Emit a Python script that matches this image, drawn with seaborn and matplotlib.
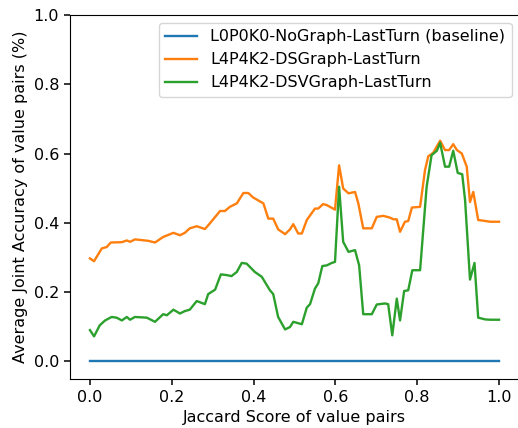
import matplotlib
matplotlib.use("Agg")
import matplotlib.pyplot as plt
import seaborn as sns
import pandas as pd

# values
base_x = [0.0, 1.0]
base_y = [0.0, 0.0]

ds_x = [0.0, 0.01, 0.029, 0.041, 0.051, 0.078, 0.09, 0.098, 0.11, 0.126, 0.142,
        0.159, 0.179, 0.204, 0.22, 0.232, 0.244, 0.261, 0.281, 0.293, 0.318, 0.33,
        0.342, 0.359, 0.375, 0.387, 0.399, 0.424, 0.436, 0.448, 0.46, 0.477, 0.489,
        0.497, 0.509, 0.518, 0.53, 0.55, 0.558, 0.57, 0.579, 0.599, 0.609, 0.619,
        0.632, 0.648, 0.656, 0.668, 0.689, 0.701, 0.717, 0.733, 0.742, 0.75, 0.758,
        0.77, 0.778, 0.787, 0.807, 0.819, 0.827, 0.839, 0.856, 0.868, 0.878, 0.888,
        0.897, 0.909, 0.921, 0.929, 0.937, 0.949, 0.962, 0.978, 1.0]
ds_y = [0.297, 0.289, 0.326, 0.330, 0.343, 0.344, 0.349, 0.345, 0.352, 0.350, 0.348,
        0.343, 0.359, 0.371, 0.364, 0.371, 0.384, 0.390, 0.382, 0.398, 0.434, 0.434,
        0.446, 0.456, 0.486, 0.486, 0.473, 0.456, 0.412, 0.412, 0.381, 0.367, 0.381,
        0.396, 0.369, 0.369, 0.408, 0.441, 0.441, 0.454, 0.451, 0.438, 0.566, 0.499,
        0.485, 0.489, 0.456, 0.384, 0.384, 0.417, 0.420, 0.415, 0.410, 0.410, 0.374,
        0.403, 0.405, 0.444, 0.446, 0.552, 0.592, 0.602, 0.637, 0.610, 0.610, 0.627,
        0.610, 0.600, 0.562, 0.460, 0.489, 0.408, 0.406, 0.403, 0.403]

dsv_x = [0.0, 0.01, 0.024, 0.037, 0.053, 0.065, 0.078, 0.09, 0.098, 0.11, 0.139,
         0.159, 0.179, 0.188, 0.204, 0.22, 0.232, 0.244, 0.261, 0.281, 0.289, 0.306,
         0.32, 0.334, 0.346, 0.359, 0.371, 0.383, 0.403, 0.42, 0.44, 0.448, 0.46,
         0.477, 0.489, 0.497, 0.518, 0.53, 0.538, 0.55, 0.558, 0.568, 0.579, 0.591,
         0.599, 0.609, 0.619, 0.632, 0.648, 0.658, 0.668, 0.689, 0.701, 0.721, 0.729,
         0.739, 0.75, 0.758, 0.768, 0.778, 0.788, 0.807, 0.823, 0.835, 0.848, 0.856,
         0.868, 0.878, 0.888, 0.899, 0.91, 0.917, 0.929, 0.94, 0.949, 0.966, 0.978, 1.0]
dsv_y = [0.090, 0.072, 0.104, 0.118, 0.128, 0.126, 0.118, 0.128, 0.120, 0.128, 0.126,
         0.114, 0.136, 0.133, 0.149, 0.138, 0.145, 0.149, 0.174, 0.165, 0.194, 0.207,
         0.251, 0.249, 0.246, 0.258, 0.284, 0.282, 0.258, 0.244, 0.205, 0.194, 0.128,
         0.092, 0.099, 0.114, 0.107, 0.155, 0.165, 0.210, 0.225, 0.275, 0.277, 0.284,
         0.287, 0.504, 0.345, 0.316, 0.321, 0.277, 0.136, 0.136, 0.164, 0.167, 0.165,
         0.075, 0.181, 0.118, 0.203, 0.205, 0.263, 0.263, 0.504, 0.595, 0.608, 0.631,
         0.562, 0.562, 0.608, 0.544, 0.540, 0.465, 0.236, 0.284, 0.126, 0.121, 0.120, 0.120]

labels = ["L0P0K0-NoGraph-LastTurn (baseline)",
          "L4P4K2-DSGraph-LastTurn",
          "L4P4K2-DSVGraph-LastTurn"]
colors = ["#1f77b4", "#ff7f0e", "#2ca02c"]

fs = 11.5
fig = plt.figure(figsize=(5.18, 4.28), dpi=100)
ax = fig.add_axes([69.5 / 518, (428 - 379.3) / 428, 450 / 518, (379.3 - 15) / 428])

series = [(base_x, base_y), (ds_x, ds_y), (dsv_x, dsv_y)]
for (xs, ys), lab, col in zip(series, labels, colors):
    df = pd.DataFrame({"x": xs, "y": ys})
    sns.lineplot(data=df, x="x", y="y", ax=ax, color=col, label=lab, linewidth=1.7)

ax.set_xlim(-0.05, 1.05)
ax.set_ylim(-0.052, 1.0)
ax.set_xlabel("Jaccard Score of value pairs", fontsize=fs)
ax.set_ylabel("Average Joint Accuracy of value pairs (%)", fontsize=fs)
ax.tick_params(labelsize=fs, width=1.1, length=4)
ax.spines["right"].set_visible(False)
ax.legend(loc="upper right", fontsize=fs)

fig.savefig("out.png", dpi=100)
